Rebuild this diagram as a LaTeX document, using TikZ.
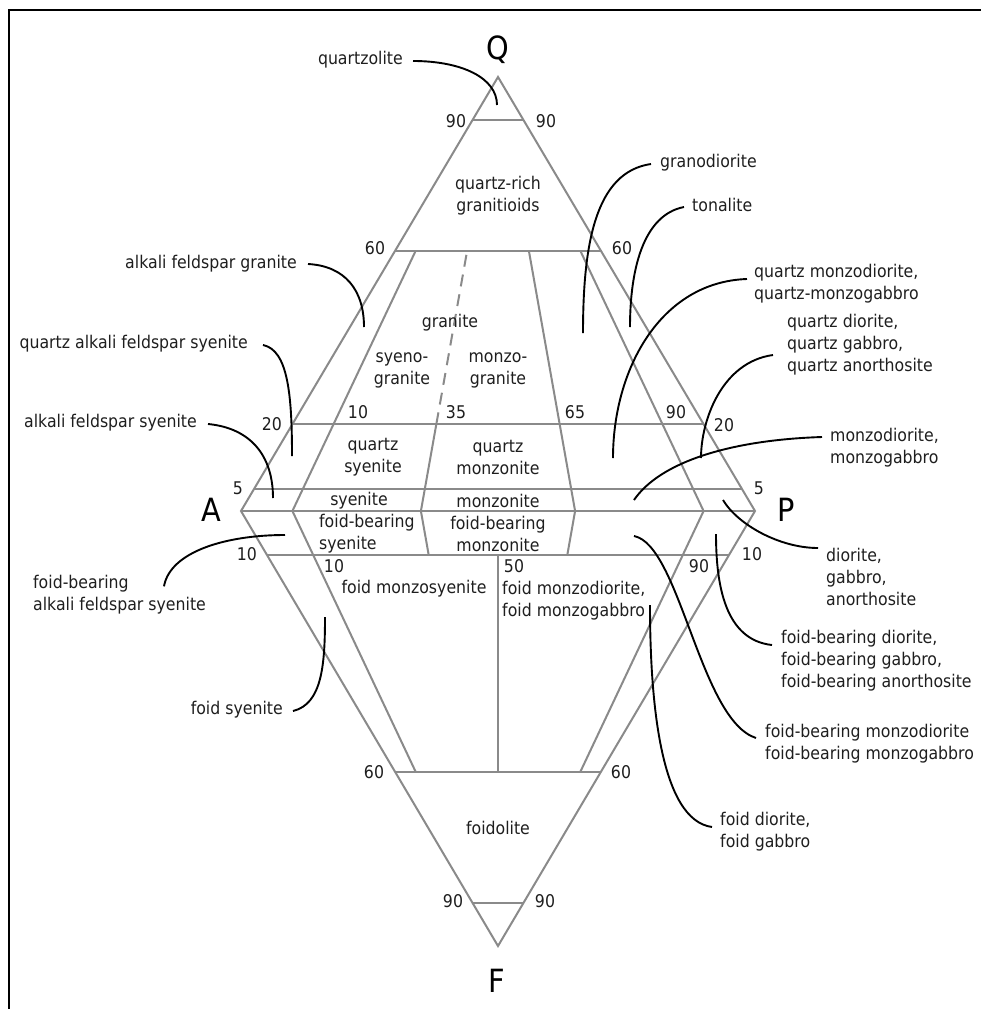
\documentclass[tikz,border=0pt]{standalone}
\usepackage{fontspec}
\setmainfont{DejaVu Sans}[FakeStretch=0.9]
\usetikzlibrary{calc}
\definecolor{edgegray}{HTML}{8A8A8A}
\definecolor{ink}{HTML}{1E1E1E}

\begin{document}
\begin{tikzpicture}[x=1pt,y=-1pt,
  every node/.style={inner sep=0pt, text=ink, font=\fontsize{17.5}{22}\selectfont},
  edge/.style={draw=edgegray, line width=2pt, line join=miter},
  dashedge/.style={edge, dash pattern=on 12pt off 8pt},
  leader/.style={draw=black, line width=1.9pt},
  corner/.style={font=\fontsize{32}{36}\selectfont, text=black},
  field/.style={align=center},
  callL/.style={anchor=east, align=right},
  callR/.style={anchor=west, align=left}]
\useasboundingbox (0,0) rectangle (981,1009);

% frame
\draw[line width=2.2pt] (9,1009) -- (9,10) -- (981,10);

% corners of the double triangle
\coordinate (Q) at (498,77);
\coordinate (A) at (241,511);
\coordinate (P) at (755,511);
\coordinate (F) at (498,946);

% points on the A--P join
\coordinate (b10) at ($(A)!0.10!(P)$);
\coordinate (b35) at ($(A)!0.35!(P)$);
\coordinate (b50) at ($(A)!0.50!(P)$);
\coordinate (b65) at ($(A)!0.65!(P)$);
\coordinate (b90) at ($(A)!0.90!(P)$);

% outline
\draw[edge] (Q) -- (P) -- (F) -- (A) -- cycle;
\draw[edge] (A) -- (P);

% horizontal field boundaries
\foreach \t in {0.9,0.6,0.2,0.05}
  \draw[edge] ($(A)!\t!(Q)$) -- ($(P)!\t!(Q)$);
\foreach \t in {0.1,0.6,0.9}
  \draw[edge] ($(A)!\t!(F)$) -- ($(P)!\t!(F)$);

% upper radial boundaries
\draw[edge] (b10) -- ($(b10)!0.6!(Q)$);
\draw[edge] (b35) -- ($(b35)!0.2!(Q)$);
\draw[dashedge] ($(b35)!0.2!(Q)$) -- ($(b35)!0.6!(Q)$);
\draw[edge] (b65) -- ($(b65)!0.6!(Q)$);
\draw[edge] (b90) -- ($(b90)!0.6!(Q)$);

% lower radial boundaries
\draw[edge] (b10) -- ($(b10)!0.6!(F)$);
\draw[edge] (b35) -- ($(b35)!0.1!(F)$);
\draw[edge] (b65) -- ($(b65)!0.1!(F)$);
\draw[edge] (b90) -- ($(b90)!0.6!(F)$);
\draw[edge] ($(b50)!0.1!(F)$) -- ($(b50)!0.6!(F)$);

% corner letters
\node[corner] (labQ) at (498,50) {Q};
\node[corner] (labA) at (211,510) {A};
\node[corner] (labP) at (786,510) {P};
\node[corner] (labF) at (497,981) {F};

% percentages
\node (n90l) at (456,121) {90};
\node (n90r) at (546,121) {90};
\node (n60l) at (375,248) {60};
\node (n60r) at (622,248) {60};
\node (n20l) at (272,424) {20};
\node (n20r) at (724,425) {20};
\node (n10u) at (358,412) {10};
\node (n35u) at (456,412) {35};
\node (n65u) at (575,412) {65};
\node (n90u) at (676,412) {90};
\node (n5l)  at (238,488) {5};
\node (n5r)  at (759,488) {5};
\node (n10l) at (247,554) {10};
\node (n10r) at (752,554) {10};
\node (n10d) at (334,566) {10};
\node (n50d) at (514,566) {50};
\node (n90d) at (699,566) {90};
\node (n60ll) at (374,772) {60};
\node (n60lr) at (621,772) {60};
\node (n90ll) at (453,901) {90};
\node (n90lr) at (545,901) {90};

% field names
\node[field] (fqrg) at (498,196) {quartz-rich\\granitioids};
\node (fgr) at (450,323) {granite};
\node[field] (fsg) at (402,370) {syeno-\\granite};
\node[field] (fmg) at (498,370) {monzo-\\granite};
\node[field] (fqs) at (373,457) {quartz\\syenite};
\node[field] (fqm) at (498,457) {quartz\\monzonite};
\node (fsy) at (359,501) {syenite};
\node (fmz) at (498,501) {monzonite};
\node[anchor=west, align=left] (ffs) at (319,534) {foid-bearing\\syenite};
\node[field] (ffm) at (498,534) {foid-bearing\\monzonite};
\node (ffms) at (414,589) {foid monzosyenite};
\node[anchor=west, align=left] (ffmd) at (502,601) {foid monzodiorite,\\foid monzogabbro};
\node (ffo) at (498,828) {foidolite};

% callouts on the left
\node[callL] (cqz) at (403,60) {quartzolite};
\node[callL] (cafg) at (297,264) {alkali feldspar granite};
\node[callL] (cqafs) at (248,344) {quartz alkali feldspar syenite};
\node[callL] (cafs) at (197,423) {alkali feldspar syenite};
\node[anchor=west, align=left] (cfbafs) at (33,595) {foid-bearing\\alkali feldspar syenite};
\node[callL] (cfs) at (283,710) {foid syenite};

% callouts on the right
\node[callR] (cgd) at (660,163) {granodiorite};
\node[callR] (cton) at (692,205) {tonalite};
\node[callR] (cqmd) at (754,284) {quartz monzodiorite,\\quartz-monzogabbro};
\node[callR] (cqd) at (787,345) {quartz diorite,\\quartz gabbro,\\quartz anorthosite};
\node[callR] (cmd) at (830,448) {monzodiorite,\\monzogabbro};
\node[callR] (cdga) at (826,577) {diorite,\\gabbro,\\anorthosite};
\node[callR] (cfbd) at (781,661) {foid-bearing diorite,\\foid-bearing gabbro,\\foid-bearing anorthosite};
\node[callR] (cfbm) at (765,744) {foid-bearing monzodiorite\\foid-bearing monzogabbro};
\node[callR] (cfdg) at (720,832) {foid diorite,\\foid gabbro};

% leader tips inside the fields
\coordinate (tqz) at (497,105);
\coordinate (tafg) at (364,327);
\coordinate (tqafs) at (292,456);
\coordinate (tafs) at (273,498);
\coordinate (tfbafs) at (285,535);
\coordinate (tfs) at (325,617);
\coordinate (tgd) at (583,333);
\coordinate (tton) at (630,327);
\coordinate (tqmd) at (613,458);
\coordinate (tqd) at (701,458);
\coordinate (tmd) at (634,500);
\coordinate (tdga) at (723,500);
\coordinate (tfbd) at (716,534);
\coordinate (tfbm) at (634,536);
\coordinate (tfdg) at (650,605);

% leaders
\draw[leader] ($(cqz.east)+(10,1)$) .. controls (462,61) and (497,78) .. (tqz);
\draw[leader] ($(cafg.east)+(11,0)$) .. controls (345,266) and (364,290) .. (tafg);
\draw[leader] ($(cqafs.east)+(15,1)$) .. controls (288,350) and (292,395) .. (tqafs);
\draw[leader] ($(cafs.east)+(11,1)$) .. controls (250,428) and (273,455) .. (tafs);
\draw[leader] ($(cfbafs.north west)+(131,11)$) .. controls (170,552) and (225,535) .. (tfbafs);
\draw[leader] ($(cfs.east)+(10,1)$) .. controls (322,704) and (325,665) .. (tfs);

\draw[leader] ($(cgd.west)+(-9,1)$) .. controls (595,172) and (583,245) .. (tgd);
\draw[leader] ($(cton.west)+(-8,2)$) .. controls (643,215) and (630,270) .. (tton);
\draw[leader] ($(cqmd.west)+(-7,-5)$) .. controls (660,282) and (613,370) .. (tqmd);
\draw[leader] ($(cqd.west)+(-14,10)$) .. controls (722,362) and (701,420) .. (tqd);
\draw[leader] ($(cmd.west)+(-8,-11)$) .. controls (730,440) and (660,462) .. (tmd);
\draw[leader] ($(cdga.west)+(-8,-29)$) .. controls (780,548) and (738,525) .. (tdga);
\draw[leader] ($(cfbd.west)+(-9,-16)$) .. controls (725,640) and (716,585) .. (tfbd);
\draw[leader] ($(cfbm.west)+(-9,-6)$) .. controls (700,720) and (680,545) .. (tfbm);
\draw[leader] ($(cfdg.west)+(-8,-5)$) .. controls (660,820) and (650,700) .. (tfdg);
\end{tikzpicture}
\end{document}
